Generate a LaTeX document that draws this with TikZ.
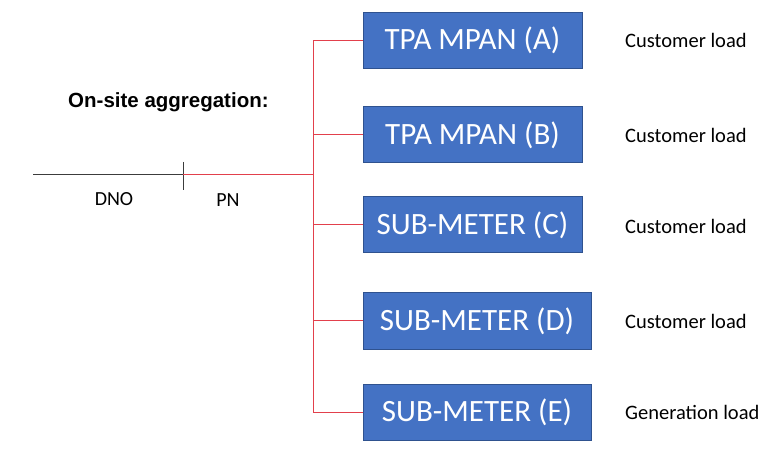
\documentclass[tikz,border=0pt]{standalone}
\usepackage{fontspec}
\setmainfont{Carlito}
\newfontfamily\headfont{Liberation Sans}
\usetikzlibrary{positioning, calc}
\definecolor{meterblue}{RGB}{68, 114, 196}
\definecolor{meteredge}{RGB}{47, 82, 143}
\definecolor{pnred}{RGB}{226, 64, 76}
\definecolor{dnogray}{RGB}{60, 60, 60}
\tikzset{
    meterbox/.style={
        rectangle, minimum width=219bp, minimum height=56bp,
        draw=meteredge, line width=1bp, fill=meterblue, text=white,
        font=\fontsize{31bp}{36bp}\selectfont, inner sep=0pt
    },
    widebox/.style={meterbox, minimum width=228bp},
    loadlabel/.style={anchor=west, inner sep=0pt, font=\fontsize{20.5bp}{24bp}\selectfont},
    netlabel/.style={inner sep=0pt, font=\fontsize{20bp}{24bp}\selectfont},
    headlabel/.style={anchor=base west, inner sep=0pt, font=\headfont\bfseries\fontsize{20.5bp}{24bp}\selectfont},
    feed/.style={line width=1bp, color=pnred},
    dnoline/.style={line width=1bp, color=dnogray},
}
\begin{document}
\begin{tikzpicture}[x=1bp, y=-1bp]
    \useasboundingbox (0,0) rectangle (763,450);

    \node[headlabel] (title) at (68,108) {On-site aggregation:};

    \node[meterbox] (mpana) at (472.5,40.5) {TPA MPAN (A)};
    \node[meterbox] (mpanb) at (472.5,135) {TPA MPAN (B)};
    \node[meterbox] (subc) at (472.5,225) {SUB-METER (C)};
    \node[widebox] (subd) at (477,321) {SUB-METER (D)};
    \node[widebox] (sube) at (477,412.5) {SUB-METER (E)};

    \node[loadlabel] (loada) at (625,40) {Customer load};
    \node[loadlabel] (loadb) at (625,135) {Customer load};
    \node[loadlabel] (loadc) at (625,226) {Customer load};
    \node[loadlabel] (loadd) at (625,321) {Customer load};
    \node[loadlabel] (loade) at (625,412) {Generation load};

    \coordinate (dnostart) at (33,175);
    \coordinate (boundary) at (183,175);
    \coordinate (tickup) at (183,162);
    \coordinate (tickdown) at (183,190);
    \coordinate (bustop) at (313,40.5);
    \coordinate (busbot) at (313,412.5);
    \coordinate (busin) at (313,175);

    \node[netlabel] (dno) at (114,199) {DNO};
    \node[netlabel] (pn) at (228,200) {PN};

    \draw[dnoline] (dnostart) -- (boundary);
    \draw[dnoline] (tickup) -- (tickdown);
    \draw[feed] (boundary) -- (busin);
    \draw[feed] (bustop) -- (busbot);

    \draw[feed] (bustop) -- (mpana.west);
    \draw[feed] (mpanb.west -| busin) -- (mpanb.west);
    \draw[feed] (subc.west -| busin) -- (subc.west);
    \draw[feed] (subd.west -| busin) -- (subd.west);
    \draw[feed] (busbot) -- (sube.west);
\end{tikzpicture}
\end{document}
